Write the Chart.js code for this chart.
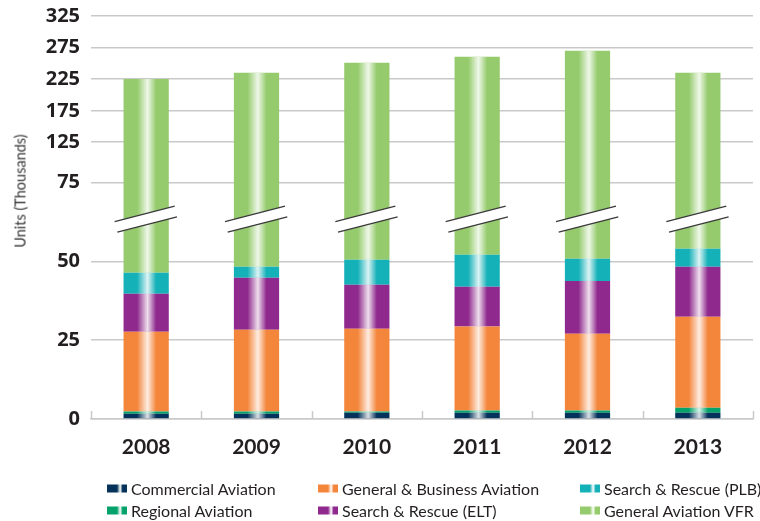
<!DOCTYPE html>
<html>
<head>
<meta charset="utf-8">
<script src="https://cdn.jsdelivr.net/npm/chart.js@4/dist/chart.umd.min.js"></script>
<style>
  html, body { margin: 0; padding: 0; background: #ffffff; }
  #wrap { position: relative; width: 760px; height: 521px; overflow: hidden; }
  #c { position: absolute; left: 0; top: 0; }
  #ytitle { position: absolute; left: 19.5px; top: 191px; transform: translate(-50%, -50%) rotate(-90deg);
    font-family: "Lato", "Open Sans", sans-serif; font-size: 14.5px; color: #333333; white-space: nowrap; }
  .lg { position: absolute; display: flex; align-items: center; font-family: "Lato", "Open Sans", sans-serif;
    font-size: 16px; color: #231f20; white-space: nowrap; transform: translateY(-50%); }
  .sw { width: 20px; height: 8px; margin-right: 4px; }
</style>
</head>
<body>
<div id="wrap">
  <canvas id="c" width="760" height="521"></canvas>
  <div id="ytitle">Units (Thousands)</div>
  <div id="legend"></div>
</div>
<script>
// ---- data (thousands of units) ----
const categories = ['2008', '2009', '2010', '2011', '2012', '2013'];
const commercialAviation = [1.7, 1.7, 2.0, 2.0, 2.0, 2.0];
const regionalAviation   = [0.7, 0.7, 0.4, 0.7, 0.7, 1.6];
const generalBusiness    = [25.3, 25.9, 26.2, 26.6, 24.3, 28.8];
const searchRescueELT    = [12.0, 16.5, 14.0, 12.6, 16.8, 15.9];
const searchRescuePLB    = [6.7, 3.5, 7.9, 10.2, 7.0, 5.7];
const generalAviationVFR = [178.6, 186.7, 200.3, 208.2, 219.0, 181.0];

// y-axis tick labels (broken axis)
const yTickLabels = [0, 25, 50, 75, 125, 175, 225, 275, 325];
// where each tick label sits on the compressed (broken) axis
const axisBreakMap = [0, 25, 50, 75, 87.8, 97.7, 107.8, 117.8, 127.8];
const axisBreakValue = 63.4;

function toAxis(v) {
  for (let i = 1; i < yTickLabels.length; i++) {
    if (v <= yTickLabels[i]) {
      const a = yTickLabels[i - 1], b = yTickLabels[i];
      const pa = axisBreakMap[i - 1], pb = axisBreakMap[i];
      return pa + (v - a) / (b - a) * (pb - pa);
    }
  }
  return axisBreakMap[axisBreakMap.length - 1];
}

const series = [
  { label: 'Commercial Aviation', values: commercialAviation, color: '#05325a' },
  { label: 'Regional Aviation', values: regionalAviation, color: '#05a36b' },
  { label: 'General & Business Aviation', values: generalBusiness, color: '#f4863c' },
  { label: 'Search & Rescue (ELT)', values: searchRescueELT, color: '#8f298d' },
  { label: 'Search & Rescue (PLB)', values: searchRescuePLB, color: '#15b1b8' },
  { label: 'General Aviation VFR', values: generalAviationVFR, color: '#95cb6c' }
];

const cum = categories.map(() => 0);
const datasets = series.map(s => {
  const data = s.values.map((v, i) => {
    const start = cum[i];
    cum[i] += v;
    return [toAxis(start), toAxis(cum[i])];
  });
  return {
    label: s.label, data, backgroundColor: s.color, borderWidth: 0,
    borderSkipped: false, barPercentage: 0.41, categoryPercentage: 1.0
  };
});

const gridColor = '#c9c9c9';

const decorations = {
  id: 'decorations',
  afterDatasetsDraw(chart) {
    const ctx = chart.ctx;
    // glossy highlight on each bar
    chart.data.datasets.forEach((ds, di) => {
      const meta = chart.getDatasetMeta(di);
      meta.data.forEach(el => {
        const p = el.getProps(['x', 'y', 'base', 'width'], true);
        const left = p.x - p.width / 2;
        const top = Math.min(p.y, p.base), h = Math.abs(p.base - p.y);
        const g = ctx.createLinearGradient(left, 0, left + p.width, 0);
        g.addColorStop(0, 'rgba(255,255,255,0)');
        g.addColorStop(0.30, 'rgba(255,255,255,0)');
        g.addColorStop(0.53, 'rgba(255,255,255,0.85)');
        g.addColorStop(0.72, 'rgba(255,255,255,0)');
        g.addColorStop(1, 'rgba(255,255,255,0)');
        ctx.save();
        ctx.fillStyle = g;
        ctx.fillRect(left, top, p.width, h);
        ctx.restore();
      });
    });
    // axis break marks
    const xs = chart.scales.x, ys = chart.scales.y;
    const yc = ys.getPixelForValue(axisBreakValue);
    const slope = -0.257, half = 5.65;
    categories.forEach((c, i) => {
      const cx = xs.getPixelForValue(i);
      const l1 = [cx - 31.5, cx + 28.5], l2 = [cx - 28.8, cx + 30.8];
      const y1 = x => yc - half + (x - cx) * slope;
      const y2 = x => yc + half + (x - cx) * slope;
      ctx.save();
      ctx.fillStyle = '#ffffff';
      ctx.beginPath();
      ctx.moveTo(l1[0], y1(l1[0]));
      ctx.lineTo(l1[1], y1(l1[1]));
      ctx.lineTo(l2[1], y2(l2[1]));
      ctx.lineTo(l2[0], y2(l2[0]));
      ctx.closePath();
      ctx.fill();
      ctx.strokeStyle = '#3a3a3a';
      ctx.lineWidth = 1.3;
      ctx.beginPath();
      ctx.moveTo(l1[0], y1(l1[0])); ctx.lineTo(l1[1], y1(l1[1]));
      ctx.moveTo(l2[0], y2(l2[0])); ctx.lineTo(l2[1], y2(l2[1]));
      ctx.stroke();
      ctx.restore();
    });
    // category boundary tick marks (inside, on the x axis)
    const area = chart.chartArea;
    const step = (area.right - area.left) / categories.length;
    ctx.save();
    ctx.strokeStyle = gridColor;
    ctx.lineWidth = 1.5;
    ctx.beginPath();
    for (let i = 0; i <= categories.length; i++) {
      const x = Math.round(area.left + i * step) + 0.5;
      ctx.moveTo(x, area.bottom);
      ctx.lineTo(x, area.bottom - 8);
    }
    ctx.stroke();
    ctx.restore();
  }
};

const chart = new Chart(document.getElementById('c'), {
  type: 'bar',
  data: { labels: categories, datasets },
  options: {
    responsive: false, animation: false, devicePixelRatio: 1,
    layout: { padding: { left: 0, right: 7, top: 16, bottom: 0 } },
    plugins: { legend: { display: false }, tooltip: { enabled: false } },
    scales: {
      x: {
        stacked: true,
        grid: { display: false, drawTicks: false },
        border: { display: true, color: gridColor, width: 1.5 },
        ticks: { font: { family: 'Lato, "Open Sans", sans-serif', size: 21, weight: 'bold' }, color: '#231f20', padding: 16 },
        afterFit(scale) { scale.height = 102; }
      },
      y: {
        min: 0, max: axisBreakMap[axisBreakMap.length - 1],
        grid: { color: gridColor, lineWidth: 1.5, drawTicks: false },
        border: { display: false },
        afterBuildTicks(scale) { scale.ticks = axisBreakMap.map(v => ({ value: v })); },
        ticks: {
          callback: (v, idx) => String(yTickLabels[idx]),
          font: { family: '"Open Sans", Lato, sans-serif', size: 20, weight: 'bold' },
          color: '#231f20', padding: 11
        },
        afterFit(scale) { scale.width = 91; scale.paddingTop = 4; scale.paddingBottom = 4; }
      }
    }
  },
  plugins: [decorations]
});

// ---- HTML legend (column-major, 3 columns x 2 rows) ----
const legendOrder = [0, 2, 4, 1, 3, 5];
const colX = [107, 318, 580];
const rowY = [488, 510];
const legendEl = document.getElementById('legend');
legendOrder.forEach((si, k) => {
  const s = series[si];
  const d = document.createElement('div');
  d.className = 'lg';
  d.style.left = colX[k % 3] + 'px';
  d.style.top = rowY[Math.floor(k / 3)] + 'px';
  const sw = document.createElement('span');
  sw.className = 'sw';
  sw.style.background = `linear-gradient(to right, ${s.color} 0%, ${s.color} 50%, rgba(255,255,255,0.9) 66%, ${s.color} 78%, ${s.color} 100%)`;
  const t = document.createElement('span');
  t.textContent = s.label;
  d.appendChild(sw); d.appendChild(t);
  legendEl.appendChild(d);
});
</script>
</body>
</html>
